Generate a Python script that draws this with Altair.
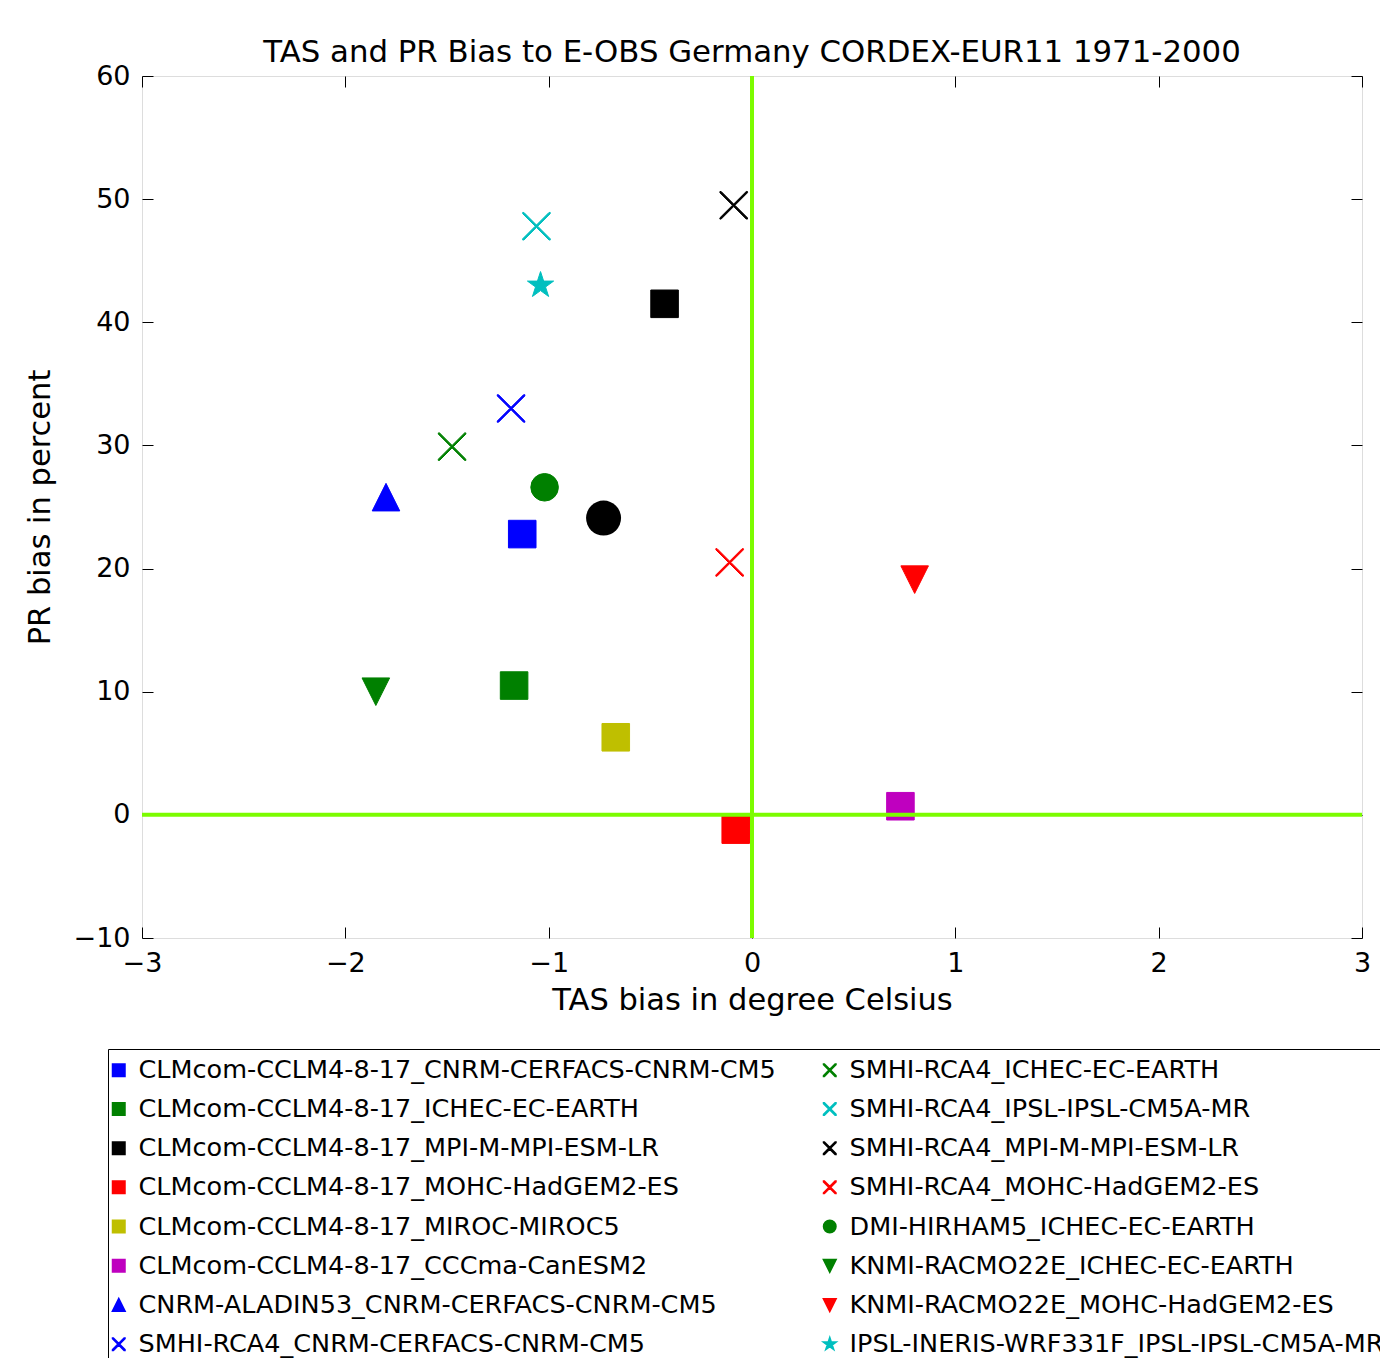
import altair as alt
import pandas as pd

# ---------------- data ----------------
models = [
    "CLMcom-CCLM4-8-17_CNRM-CERFACS-CNRM-CM5",
    "CLMcom-CCLM4-8-17_ICHEC-EC-EARTH",
    "CLMcom-CCLM4-8-17_MPI-M-MPI-ESM-LR",
    "CLMcom-CCLM4-8-17_MOHC-HadGEM2-ES",
    "CLMcom-CCLM4-8-17_MIROC-MIROC5",
    "CLMcom-CCLM4-8-17_CCCma-CanESM2",
    "CNRM-ALADIN53_CNRM-CERFACS-CNRM-CM5",
    "SMHI-RCA4_CNRM-CERFACS-CNRM-CM5",
    "SMHI-RCA4_ICHEC-EC-EARTH",
    "SMHI-RCA4_IPSL-IPSL-CM5A-MR",
    "SMHI-RCA4_MPI-M-MPI-ESM-LR",
    "SMHI-RCA4_MOHC-HadGEM2-ES",
    "DMI-HIRHAM5_ICHEC-EC-EARTH",
    "KNMI-RACMO22E_ICHEC-EC-EARTH",
    "KNMI-RACMO22E_MOHC-HadGEM2-ES",
    "IPSL-INERIS-WRF331F_IPSL-IPSL-CM5A-MR",
]
tas_bias = [-1.13, -1.17, -0.43, -0.08, -0.67, 0.73, -1.80, -1.185,
            -1.475, -1.06, -0.09, -0.11, -1.02, -1.85, 0.80, -1.04]
pr_bias = [22.8, 10.5, 41.5, -1.2, 6.3, 0.7, 25.8, 33.0,
           29.9, 47.8, 49.5, 20.5, 26.6, 10.0, 19.1, 43.0]

# point drawn in the plot whose legend entry lies below the visible area
extra_tas = [-0.73]
extra_pr = [24.1]

zero_line = [0]
x_ticks = [-3, -2, -1, 0, 1, 2, 3]
y_ticks = [-10, 0, 10, 20, 30, 40, 50, 60]

# ---------------- styles ----------------
BLUE, GREEN, BLACK, RED = "#0000FF", "#008000", "#000000", "#FF0000"
YELLOW, MAGENTA, CYAN = "#BFBF00", "#BF00BF", "#00BFBF"
LAWNGREEN = "#7CFC00"

def x_path(d):
    pts = [(-1, -1), (-1 + d, -1), (0, -d), (1 - d, -1), (1, -1), (1, -1 + d),
           (d, 0), (1, 1 - d), (1, 1), (1 - d, 1), (0, d), (-1 + d, 1),
           (-1, 1), (-1, 1 - d), (-d, 0), (-1, -1 + d)]
    return "M" + "L".join(f"{a:.3f},{b:.3f}" for a, b in pts) + "Z"

SQ = "square"
CI = "circle"
TU = "M0,-1L1,1L-1,1Z"
TD = "M0,1L1,-1L-1,-1Z"
XX = x_path(0.09)
ST = ("M0,-1L0.2245,-0.309L0.951,-0.309L0.363,0.118L0.588,0.809L0,0.382"
      "L-0.588,0.809L-0.363,0.118L-0.951,-0.309L-0.2245,-0.309Z")

colors = [BLUE, GREEN, BLACK, RED, YELLOW, MAGENTA, BLUE, BLUE,
          GREEN, CYAN, BLACK, RED, GREEN, GREEN, RED, CYAN]
shapes = [SQ, SQ, SQ, SQ, SQ, SQ, TU, XX, XX, XX, XX, XX, CI, TD, TD, ST]

df = pd.DataFrame({"model": models, "tas": tas_bias, "pr": pr_bias})
df_extra = pd.DataFrame({"tas": extra_tas, "pr": extra_pr})
df_zero = pd.DataFrame({"zero": zero_line})

FONT = "DejaVu Sans"
xscale = alt.Scale(domain=[-3, 3], nice=False, zero=False)
yscale = alt.Scale(domain=[-10, 60], nice=False, zero=False)

legend = alt.Legend(
    orient="none", legendX=-34, legendY=973, columns=2,
    strokeColor="black", fillColor="white", padding=8, cornerRadius=0,
    rowPadding=12.2, columnPadding=43, labelOffset=7, symbolOffset=-10,
    symbolSize=144, symbolStrokeWidth=2,
    labelFont=FONT, labelFontSize=25.5, labelColor="black", labelLimit=2000,
)

points = alt.Chart(df).mark_point(filled=True, size=760, strokeWidth=1, opacity=1).encode(
    x=alt.X("tas:Q", scale=xscale, axis=alt.Axis(
        orient="bottom", values=x_ticks, ticks=False, tickSize=0, domain=False, grid=False,
        labelFlush=False,
        labelFont=FONT, labelFontSize=27, labelColor="black", labelPadding=12,
        title="TAS bias in degree Celsius", titleFont=FONT, titleFontSize=30.5,
        titleFontWeight="normal", titleColor="black", titlePadding=9)),
    y=alt.Y("pr:Q", scale=yscale, axis=alt.Axis(
        orient="left", values=y_ticks, ticks=False, tickSize=0, domain=False, grid=False,
        labelFlush=False,
        labelFont=FONT, labelFontSize=27, labelColor="black", labelPadding=12,
        title="PR bias in percent", titleFont=FONT, titleFontSize=30.5,
        titleFontWeight="normal", titleColor="black", titlePadding=18)),
    color=alt.Color("model:N", scale=alt.Scale(domain=models, range=colors), legend=legend, title=""),
    stroke=alt.Stroke("model:N", scale=alt.Scale(domain=models, range=colors), legend=legend, title=""),
    shape=alt.Shape("model:N", scale=alt.Scale(domain=models, range=shapes), legend=legend, title=""),
)

extra = alt.Chart(df_extra).mark_point(filled=True, shape="circle", size=1225, color=BLACK, opacity=1).encode(
    x=alt.X("tas:Q", scale=xscale, axis=None),
    y=alt.Y("pr:Q", scale=yscale, axis=None),
)

tick_common = dict(labels=False, domain=False, grid=False, tickSize=11, tickColor="black",
                   tickWidth=1, title="")

vline = alt.Chart(df_zero).mark_rule(color=LAWNGREEN, strokeWidth=4).encode(
    x=alt.X("zero:Q", scale=xscale, axis=alt.Axis(orient="bottom", offset=-11, values=x_ticks, **tick_common)),
)
hline = alt.Chart(df_zero).mark_rule(color=LAWNGREEN, strokeWidth=4).encode(
    y=alt.Y("zero:Q", scale=yscale, axis=alt.Axis(orient="left", offset=-11, values=y_ticks, **tick_common)),
)
top_ticks = alt.Chart(df_zero).mark_rule(opacity=0).encode(
    x=alt.X("zero:Q", scale=xscale, axis=alt.Axis(orient="top", offset=-11, values=x_ticks, **tick_common)),
)
right_ticks = alt.Chart(df_zero).mark_rule(opacity=0).encode(
    y=alt.Y("zero:Q", scale=yscale, axis=alt.Axis(orient="right", offset=-11, values=y_ticks, **tick_common)),
)

chart = alt.layer(points, extra, vline, hline, top_ticks, right_ticks).resolve_axis(
    x="independent", y="independent"
).properties(
    width=1220, height=862,
    title=alt.TitleParams(
        "TAS and PR Bias to E-OBS Germany CORDEX-EUR11 1971-2000",
        font=FONT, fontSize=30.8, fontWeight="normal", color="black",
        anchor="middle", baseline="alphabetic", offset=13, frame="group", dy=44),
    autosize=alt.AutoSizeParams(type="none"),
    padding={"left": 134, "top": 68, "right": 18, "bottom": 420},
).configure_view(
    stroke="black", strokeWidth=2
).configure(background="white")

chart.save("out.html", embed_options={"renderer": "svg", "actions": False})
